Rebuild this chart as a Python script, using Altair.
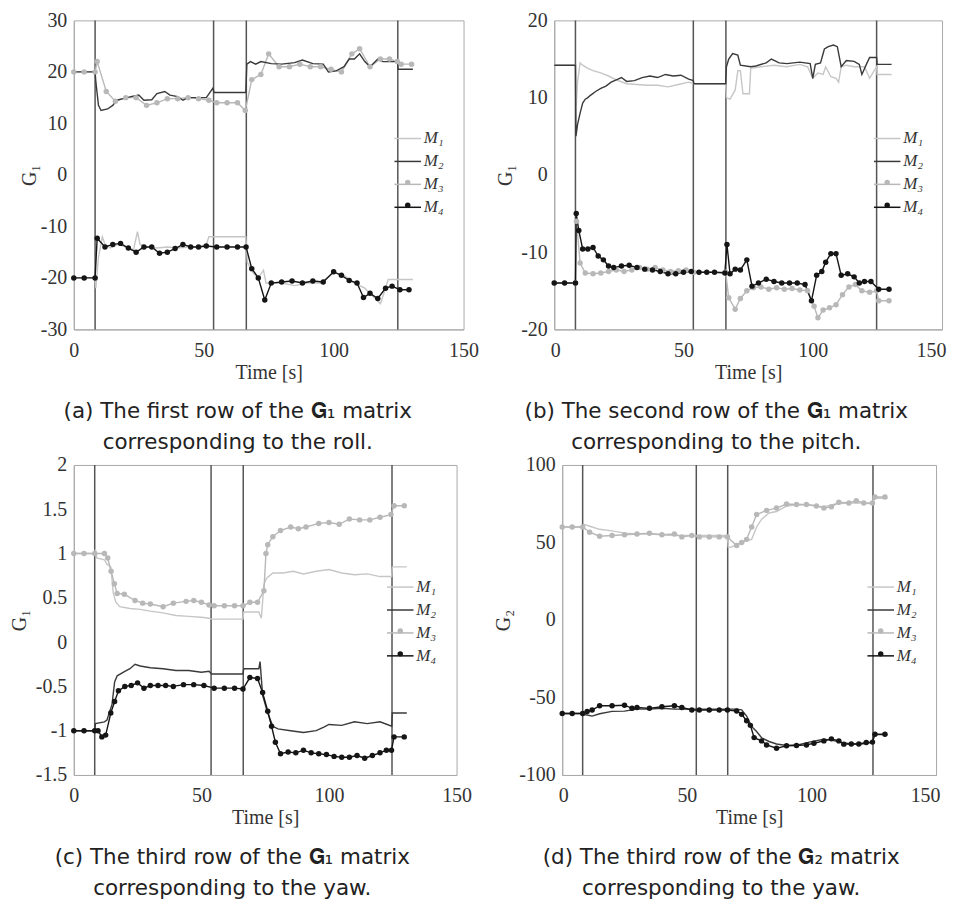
import altair as alt
import pandas as pd

# ---------------- data ----------------
EVENTS = [8.2, 53.8, 66.4, 124.7]
X_TICKS = [0, 50, 100, 150]

# (a) first row of G1 (roll)
A_M1_T = [0, 8.2, 8.5, 9.5, 11, 12, 14, 17, 20, 23, 24.5, 25.5, 28, 32, 36, 40, 44, 48, 51, 52, 66.2, 66.8, 69, 71, 73, 74, 76, 80, 85, 90, 95, 100, 104, 108, 112, 115, 118, 120, 121, 130.5]
A_M1_V = [-20, -20, -22, -16, -12, -13.5, -14.2, -13.5, -14, -14.5, -11, -13.5, -14, -14.2, -14, -14.2, -14, -14, -13.5, -12, -12, -17, -19, -20, -18.5, -21, -21, -21, -21.5, -21, -21, -19, -19.5, -21, -22, -23.5, -25, -22, -20.3, -20.3]
A_M2_T = [0, 8.2, 8.5, 9.5, 10.5, 13, 15, 16.5, 19, 22, 25, 27, 30, 32, 35, 37, 40, 42, 44, 48, 51, 53.5, 54, 66.2, 66.6, 68, 70, 72, 76, 80, 85, 88, 92, 96, 98, 101, 104, 106, 108, 110, 112, 114, 117, 119, 124.6, 124.8, 130.5]
A_M2_V = [20, 20, 18, 13.5, 12.5, 12.8, 13.5, 14.5, 14.8, 15.2, 15.5, 14.5, 14.6, 15.8, 16.2, 15.5, 15.2, 14.5, 15, 15, 15, 16.8, 16, 16, 21.5, 22, 21.5, 22, 21.6, 21.5, 21.8, 22.3, 21.6, 21.5, 20, 20.2, 21, 22.5, 22.5, 23.5, 22, 21, 22.5, 22, 22, 20.5, 20.5]
A_M3_T = [0, 4, 8.2, 9, 12.5, 16, 20, 24, 28, 32, 36, 40, 44, 48, 52, 55, 59, 63, 66, 68.5, 72, 75, 79, 83, 87, 91, 95, 99, 103, 107, 110, 114, 118, 121.5, 124.5, 126, 130]
A_M3_V = [20, 20, 20, 22, 16.2, 14.3, 15, 15, 13.5, 14, 14.8, 14.8, 15, 14.8, 14.5, 14, 14, 14, 12.5, 18.5, 19.5, 23.5, 21, 21, 21.5, 21, 21, 20.5, 20, 23.5, 24.5, 21, 22.5, 22.5, 22, 21.5, 21.5]
A_M4_T = [0, 4, 8.2, 9, 12, 15, 18, 21, 24, 27, 30, 33, 36, 39, 42, 45, 48, 51, 55, 59, 63, 66.3, 68.5, 71, 73.5, 76, 80, 84, 88, 92, 96, 100, 103, 106, 109, 111.5, 114, 117, 120, 122.5, 125.5, 129]
A_M4_V = [-20, -20, -20, -12.3, -14, -13.5, -13.3, -14.2, -15, -14, -14, -15.2, -15, -14.3, -13.5, -14, -14, -13.8, -14, -14, -14, -14, -18.2, -20, -24.3, -21, -20.8, -20.6, -21, -20.6, -20.8, -18.8, -19.5, -20.5, -21, -23.8, -23, -24, -22, -21.6, -22.3, -22.3]

# (b) second row of G1 (pitch)
B_M1_T = [0, 8.2, 8.5, 9, 10, 11, 13, 15, 18, 21, 24, 28, 32, 36, 40, 44, 48, 52, 54, 66.3, 66.6, 68, 70, 71, 72, 73, 75.5, 76, 80, 85, 90, 95, 98, 100, 102, 104, 105, 107, 109, 110, 111, 113, 116, 120, 122, 124.7, 124.9, 130.5]
B_M1_V = [14.2, 14.2, 9, 12, 14.5, 14.2, 13.8, 13.5, 13.2, 12.8, 12.3, 11.8, 11.7, 11.6, 11.6, 11.4, 11.7, 12, 11.8, 11.8, 10, 9.8, 11, 13.5, 13.5, 10.5, 10.5, 13.8, 14, 14.2, 14, 14.3, 14, 12.5, 13.2, 13, 14, 12.7, 12.5, 12, 14, 14.2, 14, 14, 12.5, 14, 13, 13]
B_M2_T = [0, 8.2, 8.4, 9, 10, 11, 12, 13, 14, 16, 18, 20, 22, 24, 26, 28, 31, 34, 37, 40, 43, 46, 49, 52, 53.8, 54, 66.3, 66.6, 67.5, 69, 71, 72, 76, 78, 82, 84, 87, 90, 95, 99, 100, 101, 103, 104.5, 106, 108, 109.5, 111, 113, 116, 118, 119, 121, 122, 124.7, 124.9, 130.5]
B_M2_V = [14.2, 14.2, 5, 6.5, 8, 9.3, 9.8, 10, 10.3, 10.8, 11.2, 11.5, 12, 12.3, 12.6, 12.1, 12.2, 12.6, 12.8, 12.6, 13, 12.8, 12.9, 12.4, 12.2, 11.8, 11.8, 14, 15, 15.7, 15.5, 14.2, 14, 14.1, 14.5, 15, 14.5, 14.4, 14.6, 14.4, 12.5, 14.3, 14.5, 16.3, 16.6, 16.8, 16.6, 14, 14.8, 14.7, 14.3, 13, 14.5, 15.2, 15.2, 14.3, 14.3]
B_M3_T = [0, 8.2, 8.6, 10, 12, 15, 18, 21, 24, 27, 30, 33, 36, 39, 42, 45, 48, 51, 54, 66.3, 67.5, 70, 72, 74.5, 77, 80, 83, 86, 89, 92, 95, 98, 100.5, 102, 104, 106.5, 109, 111.5, 114, 116.5, 119, 122, 124.7, 125.5, 129.5]
B_M3_V = [-14, -14, -6, -11.4, -12.7, -12.8, -12.7, -12.5, -12.3, -12.5, -12.3, -12, -12.2, -12, -12.3, -12.5, -12.4, -12.3, -12.6, -12.6, -15.9, -17.4, -16, -15, -14.6, -14.5, -14.8, -14.6, -14.8, -14.7, -14.9, -15, -17, -18.5, -17.5, -17.2, -16.8, -15.5, -14.5, -14.2, -15, -15.2, -15, -16.3, -16.3]
B_M4_T = [0, 4, 8.2, 8.5, 9.5, 11, 13, 15, 17, 19, 21, 23, 26, 29, 32, 35, 38, 41, 44, 47, 50, 53, 56, 59, 62, 66, 66.8, 68, 70, 72, 74.5, 76.5, 79, 82, 85, 88, 91, 94, 97, 99.5, 101.5, 103.5, 105, 107, 109, 111, 113.5, 116, 118, 120, 122.5, 125.5, 129.5]
B_M4_V = [-14, -14, -14, -5, -7.2, -9.6, -9.6, -9.4, -10.5, -11, -11.8, -12, -11.8, -11.7, -12, -12.2, -12.3, -12.5, -12.8, -12.8, -12.6, -12.5, -12.6, -12.6, -12.6, -12.7, -9, -12.8, -12.2, -12.3, -11, -14.4, -14, -13.5, -13.8, -14, -14, -14, -14.2, -16.3, -13, -12.5, -11.3, -10.2, -10.2, -13, -12.8, -13.2, -14, -13.8, -13.8, -14.8, -14.8]

# (c) third row of G1 (yaw)
C_M1_T = [0, 8.2, 8.5, 9, 12, 13, 14.5, 15.5, 16.5, 18, 22, 26, 30, 35, 40, 45, 50, 53, 54, 66.3, 66.6, 72.5, 73.5, 74.5, 75.5, 78, 82, 86, 90, 95, 100, 105, 110, 115, 120, 124.6, 124.8, 130.5]
C_M1_V = [1, 1, 1.05, 0.95, 0.93, 0.88, 0.85, 0.55, 0.45, 0.4, 0.38, 0.37, 0.35, 0.33, 0.3, 0.29, 0.28, 0.27, 0.26, 0.26, 0.34, 0.34, 0.27, 0.65, 0.72, 0.78, 0.78, 0.8, 0.77, 0.8, 0.82, 0.78, 0.76, 0.77, 0.74, 0.74, 0.85, 0.85]
C_M2_T = [0, 8.2, 8.5, 12, 13, 15, 16, 17, 20, 22, 24, 26, 30, 35, 40, 45, 50, 53, 54, 66.3, 66.6, 72.5, 73, 74, 76, 78, 80, 85, 90, 95, 98, 100, 105, 110, 115, 120, 124.6, 124.8, 130.5]
C_M2_V = [-1, -1, -0.92, -0.9, -0.88, -0.7, -0.45, -0.38, -0.33, -0.3, -0.25, -0.27, -0.29, -0.3, -0.32, -0.32, -0.34, -0.33, -0.36, -0.36, -0.3, -0.3, -0.22, -0.6, -0.8, -0.95, -0.98, -1.0, -1.02, -1.0, -0.96, -0.93, -0.94, -0.9, -0.92, -0.9, -0.95, -0.8, -0.8]
C_M3_T = [0, 4, 8.2, 12, 13.3, 14.6, 15.9, 17, 19.8, 24, 27, 30, 35, 39, 44, 47, 50, 53, 55, 59, 63, 66.3, 69, 72, 74.5, 75.3, 76, 78, 81, 85, 88, 91, 96, 100, 104, 108, 112, 116, 120, 124.3, 125.5, 129.5]
C_M3_V = [1, 1, 1, 1, 0.95, 0.8, 0.66, 0.55, 0.54, 0.47, 0.44, 0.43, 0.4, 0.44, 0.46, 0.47, 0.45, 0.42, 0.41, 0.41, 0.41, 0.41, 0.45, 0.45, 0.58, 1.0, 1.1, 1.19, 1.26, 1.3, 1.28, 1.3, 1.34, 1.35, 1.33, 1.39, 1.38, 1.38, 1.41, 1.44, 1.54, 1.54]
C_M4_T = [0, 4, 8.2, 9.5, 11, 12.5, 14.5, 16, 17.5, 20, 22.5, 25, 27.5, 30, 33, 36, 39, 43, 47, 51, 55, 59, 63, 66.3, 69, 72, 74, 76, 77.5, 79, 81, 84, 87, 90, 93, 96, 99, 102, 105, 108, 111, 114, 117, 120, 122.5, 124.5, 125.5, 129.5]
C_M4_V = [-1, -1, -1, -1.0, -1.07, -1.05, -0.8, -0.67, -0.55, -0.5, -0.49, -0.46, -0.52, -0.49, -0.49, -0.49, -0.5, -0.48, -0.48, -0.49, -0.52, -0.52, -0.52, -0.53, -0.4, -0.41, -0.57, -0.78, -0.95, -1.13, -1.26, -1.24, -1.25, -1.22, -1.25, -1.26, -1.27, -1.29, -1.3, -1.3, -1.28, -1.31, -1.28, -1.25, -1.22, -1.22, -1.07, -1.07]

# (d) third row of G2 (yaw)
D_M1_T = [0, 8.2, 9, 12, 15, 20, 25, 30, 35, 40, 45, 50, 53, 66.3, 66.6, 68, 70, 72, 74, 76, 78, 80, 83, 86, 90, 95, 100, 105, 110, 115, 120, 124.6, 124.8, 130.5]
D_M1_V = [60, 60, 61.5, 60, 58.5, 57.5, 56, 55.5, 55.5, 55, 54.5, 54.5, 54.5, 54.5, 47, 47, 49, 50, 51, 52, 60, 65, 69, 70, 73.5, 74.5, 74, 73, 75, 75.5, 75.5, 75, 78.5, 78.5]
D_M2_T = [0, 8.2, 9, 12, 15, 20, 25, 30, 35, 40, 45, 50, 53, 66.3, 70, 72, 74, 76, 78, 80, 83, 86, 90, 95, 100, 105, 108, 112, 116, 120, 124.6, 124.8, 130.5]
D_M2_V = [-60.3, -60.3, -61, -62, -60.5, -59, -58.8, -57.5, -57.5, -57, -57.5, -57.5, -57.5, -57.5, -57.5, -58, -62, -68.8, -72, -76, -78.4, -80, -81, -80.5, -78.5, -77, -77.5, -79, -80, -80, -79, -74, -74]
D_M3_T = [0, 4, 8.2, 11, 15, 20, 25, 30, 35, 40, 45, 48, 52, 55, 59, 63, 66.3, 70, 72, 74, 76, 78, 82, 86, 90, 94, 98, 102, 105, 108, 111, 115, 118, 121, 124.5, 125.5, 129.5]
D_M3_V = [60, 60, 60, 56.6, 54, 54.5, 55, 55.5, 56, 55, 55.5, 53.6, 54.5, 53.6, 53.6, 53.6, 53.6, 48, 50, 52, 60, 68, 70.7, 72.2, 74.8, 74.5, 74.5, 73.5, 72.2, 73, 75.9, 75.5, 76.9, 75.5, 75.5, 79.3, 79.3]
D_M4_T = [0, 4, 8.2, 10, 12, 15, 20, 25, 28, 30, 35, 40, 45, 48, 52, 55, 59, 63, 66.3, 70, 72, 74, 75.5, 77, 80, 82, 86, 90, 94, 98, 101, 105, 108, 111, 113, 116, 119, 122, 124.5, 125.5, 129.5]
D_M4_V = [-60.3, -60.3, -60.3, -59, -58.1, -55.3, -55.3, -55, -57, -56.5, -57, -56, -55.3, -56.5, -58.1, -58.1, -58.1, -58.1, -58.1, -58.7, -60.9, -65, -68, -75.9, -78, -80.6, -82.7, -81.2, -81, -80.6, -79.5, -78, -76.7, -78, -80.1, -80, -80, -79, -78.8, -73.7, -73.7]

NAMES = ["M₁", "M₂", "M₃", "M₄"]
COLORS = ["#c6c6c6", "#3a3a3a", "#b8b8b8", "#151515"]

LINE_PATH = "M-2,0H2"
ROW_H = 17
ROW_PAD = 5


def panel(series, ydom, yvals, ytitle, w, h, lx, ly, caption, ytp, cdx, flush):
    rows = []
    i = 0
    for name, ts, vs in series:
        for t, v in zip(ts, vs):
            rows.append({"t": t, "v": v, "s": name, "i": i})
            i += 1
    df = pd.DataFrame(rows)
    ev = pd.DataFrame({"t": EVENTS})

    if flush:
        xaxis = alt.Axis(values=X_TICKS, title="Time [s]", labelExpr="datum.value + ''",
                         labelFlush=True, labelFlushOffset=4)
    else:
        xaxis = alt.Axis(values=X_TICKS, title="Time [s]", labelExpr="datum.value + ''",
                         labelFlush=False)
    x = alt.X("t:Q", scale=alt.Scale(domain=[0, 150], nice=False), axis=xaxis)
    y = alt.Y("v:Q", scale=alt.Scale(domain=ydom, nice=False),
              axis=alt.Axis(values=yvals, title=ytitle, labelExpr="datum.value + ''",
                            titlePadding=ytp))

    line_legend = alt.Legend(
        orient="none", legendX=lx, legendY=ly, title=None,
        symbolType=LINE_PATH, symbolSize=177, symbolStrokeWidth=1.5,
        labelFont="Liberation Serif", labelFontStyle="italic", labelFontSize=ROW_H,
        labelColor="#333333", labelOffset=7.5, rowPadding=ROW_PAD, padding=0,
    )
    # dots of the M3 / M4 legend entries, laid over rows 3 and 4 of the line legend
    dot_legend = alt.Legend(
        orient="none", legendX=lx, legendY=ly + 2 * (ROW_H + ROW_PAD), title=None,
        symbolType="circle", symbolSize=30, symbolStrokeWidth=0,
        labelFontSize=ROW_H, labelOpacity=0, rowPadding=ROW_PAD, padding=0,
    )

    rules = alt.Chart(ev).mark_rule(color="#555555", strokeWidth=1.5).encode(x=x)
    lines = alt.Chart(df).mark_line(strokeWidth=1.4).encode(
        x=x, y=y,
        stroke=alt.Stroke("s:N", scale=alt.Scale(domain=NAMES, range=COLORS), legend=line_legend),
        order="i:Q",
    )
    dots = alt.Chart(df).transform_filter(
        "datum.s === 'M₃' || datum.s === 'M₄'"
    ).mark_point(filled=True, size=30, opacity=1).encode(
        x=x, y=y,
        fill=alt.Fill("s:N", scale=alt.Scale(domain=["M₃", "M₄"], range=[COLORS[2], COLORS[3]]),
                      legend=dot_legend),
    )
    return alt.layer(rules, lines, dots).properties(
        width=w, height=h,
        title=alt.TitleParams(text=caption, orient="bottom", anchor="middle",
                              font="DejaVu Sans", fontSize=21.5, fontWeight="normal",
                              color="#222222", lineHeight=31, offset=19, dx=cdx),
    )


pa = panel([("M₁", A_M1_T, A_M1_V), ("M₃", A_M3_T, A_M3_V), ("M₂", A_M2_T, A_M2_V), ("M₄", A_M4_T, A_M4_V)],
           [-30, 30], [-30, -20, -10, 0, 10, 20, 30], "G₁", 391, 310, 326.5, 110,
           ["(a) The first row of the 𝐆₁ matrix", "corresponding to the roll."], 1, -31, False)
pb = panel([("M₁", B_M1_T, B_M1_V), ("M₃", B_M3_T, B_M3_V), ("M₂", B_M2_T, B_M2_V), ("M₄", B_M4_T, B_M4_V)],
           [-20, 20], [-20, -10, 0, 10, 20], "G₁", 389, 310, 325.5, 110,
           ["(b) The second row of the 𝐆₁ matrix", "corresponding to the pitch."], 5, -32, True)
pc = panel([("M₁", C_M1_T, C_M1_V), ("M₃", C_M3_T, C_M3_V), ("M₂", C_M2_T, C_M2_V), ("M₄", C_M4_T, C_M4_V)],
           [-1.5, 2], [-1.5, -1, -0.5, 0, 0.5, 1, 1.5, 2], "G₁", 384, 311, 319, 114,
           ["(c) The third row of the 𝐆₁ matrix", "corresponding to the yaw."], 6, -33, False)
pd_ = panel([("M₁", D_M1_T, D_M1_V), ("M₃", D_M3_T, D_M3_V), ("M₂", D_M2_T, D_M2_V), ("M₄", D_M4_T, D_M4_V)],
            [-100, 100], [-100, -50, 0, 50, 100], "G₂", 375, 311, 311, 114,
            ["(d) The third row of the 𝐆₂ matrix", "corresponding to the yaw."], 5, -28, True)

row1 = alt.hconcat(pa, pb, spacing=15).resolve_scale(stroke="independent", fill="independent").resolve_legend(stroke="independent", fill="independent")
row2 = alt.hconcat(pc, pd_, spacing=20).resolve_scale(stroke="independent", fill="independent").resolve_legend(stroke="independent", fill="independent")

chart = alt.vconcat(row1, row2, spacing=0).resolve_scale(
    stroke="independent", fill="independent"
).resolve_legend(stroke="independent", fill="independent").properties(
    padding={"left": 0, "top": 0, "right": 0, "bottom": 0}
).configure_view(
    stroke="#aaaaaa", strokeWidth=1
).configure_axis(
    labelFont="Liberation Serif", labelFontSize=20, labelColor="#333333",
    titleFont="Liberation Serif", titleFontSize=20, titleFontWeight="normal", titleColor="#333333",
    domainColor="#aaaaaa", domainWidth=1, ticks=False, grid=False,
).configure_axisX(
    labelPadding=11, titlePadding=2
).configure_axisY(
    labelPadding=7
)

chart.save("out.html", embed_options={"renderer": "svg", "actions": False})
